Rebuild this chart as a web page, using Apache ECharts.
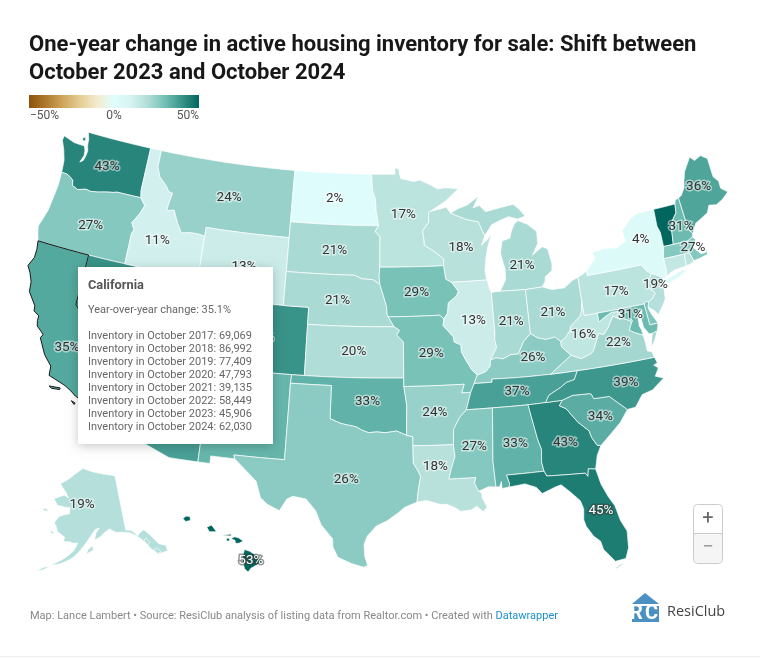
<!DOCTYPE html>
<html><head><meta charset="utf-8">
<style>html,body{margin:0;padding:0;background:#fff}#c{width:760px;height:658px}</style>
<script src="https://cdn.jsdelivr.net/npm/echarts@6/dist/echarts.min.js"></script>
</head><body><div id="c"></div>
<script>
// ---------- chart data ----------
const stateNames = ['Washington','Oregon','Nevada','Idaho','Montana','Wyoming','Utah','Arizona','Colorado','New Mexico','North Dakota','South Dakota','Nebraska','Kansas','Oklahoma','Texas','Minnesota','Iowa','Missouri','Arkansas','Louisiana','Wisconsin','Illinois','Michigan','Indiana','Ohio','Kentucky','Tennessee','Mississippi','Alabama','Georgia','Florida','South Carolina','North Carolina','Virginia','West Virginia','Pennsylvania','New York','Vermont','New Hampshire','Maine','Massachusetts','Connecticut','Rhode Island','New Jersey','Delaware','Maryland','District of Columbia','Alaska','Hawaii','California'];
const stateValues = [43,27,40,11,24,13,20,37,40,32,2,21,21,20,33,26,17,29,29,24,18,18,13,21,21,21,26,37,27,33,43,45,34,39,22,16,17,4,52,31,36,27,15,17,19,28,31,20,19,53,35.1];
const unlabelled = ['Vermont','Connecticut','Rhode Island','Delaware','District of Columbia'];
const whiteLabelled = ['Florida','Hawaii'];
const legendTicks = ['\u221250%','0%','50%'];
const legendColors = ['#8c510a','#ad7a2e','#cfa55b','#e5cd93','#f4ebcd','#e0fefe','#d6f3f0','#b0ddd7','#72bfb5','#389388','#01665e'];
const tipTitle = 'California';
const tipChange = 'Year-over-year change: 35.1%';
const tipYears = [2017,2018,2019,2020,2021,2022,2023,2024];
const tipInventory = ['69,069','86,992','77,409','47,793','39,135','58,449','45,906','62,030'];

// ---------- geometry (lon / lat) : shared borders ----------
const waOr=[[-124,46.27],[-123.5,46.25],[-123.2,46.15],[-122.9,46],[-122.8,45.7],[-122.3,45.55],[-121.6,45.7],[-121.2,45.65],[-120.6,45.72],[-119.9,45.85],[-119.3,45.93],[-118.98,46],[-116.92,46]];
const idOr=[[-116.92,46],[-116.46,45.6],[-116.7,45.1],[-116.85,44.9],[-117.2,44.45],[-117.05,44.25],[-116.9,44.1],[-117.03,43.8],[-117.03,42]];
const idMt=[[-116.05,49],[-116.05,48],[-115.7,47.45],[-115,47],[-114.7,46.7],[-114.35,46.65],[-114.5,46],[-114.55,45.56],[-113.95,45.69],[-113.45,44.95],[-113,44.45],[-112.3,44.55],[-111.5,44.55],[-111.05,44.48]];
const azCa=[[-114.72,32.72],[-114.5,33],[-114.7,33.4],[-114.5,33.9],[-114.15,34.27],[-114.4,34.6],[-114.63,35]];
const azNv=[[-114.63,35],[-114.7,35.6],[-114.74,36.1],[-114.04,36.19]];
const okTx=[[-100,34.56],[-99.2,34.3],[-98.1,34.13],[-97.7,33.95],[-97.2,33.8],[-96.6,33.85],[-96,33.8],[-95.2,33.9],[-94.48,33.64]];
const laTx=[[-94.04,33.02],[-94.04,32],[-93.7,31.5],[-93.55,31.2],[-93.75,30.3],[-93.84,29.7]];
const neSd=[[-104.05,43],[-98.5,43],[-97.9,42.8],[-97,42.76],[-96.44,42.49]];
const iaNe=[[-96.44,42.49],[-96.1,41.7],[-95.9,41.2],[-95.85,40.7],[-95.77,40.58]];
const neMo=[[-95.77,40.58],[-95.31,40]];
const ksMo=[[-95.31,40],[-94.9,39.8],[-95.1,39.5],[-94.61,39.11],[-94.62,37]];
const iaSd=[[-96.45,43.5],[-96.5,43],[-96.44,42.49]];
const mnNd=[[-97.23,49],[-97.1,48],[-96.85,47.5],[-96.8,46.9],[-96.56,45.94]];
const mnSd=[[-96.56,45.94],[-96.85,45.6],[-96.45,45.3],[-96.45,43.5]];
const mnWi=[[-92.1,46.75],[-92.3,46.66],[-92.3,46.1],[-92.85,45.6],[-92.75,45],[-92.75,44.75],[-92,44.4],[-91.2,43.9],[-91.22,43.5]];
const iaWi=[[-91.22,43.5],[-91.1,42.7],[-90.65,42.5]];
const iaIl=[[-90.65,42.5],[-90.15,41.95],[-90.3,41.7],[-91,41.3],[-91.1,40.7],[-91.42,40.38]];
const ilMo=[[-91.42,40.38],[-91.5,40],[-90.75,39.3],[-90.7,39],[-90.2,38.8],[-90.2,38.4],[-89.9,37.9],[-89.5,37.3],[-89.13,36.98]];
const kyMo=[[-89.13,36.98],[-89.4,36.5]];
const moTn=[[-89.4,36.5],[-89.7,36]];
const arTn=[[-89.7,36],[-90.1,35]];
const arMs=[[-90.1,35],[-90.6,34.6],[-91.1,33.9],[-91.17,33]];
const laMs=[[-91.17,33],[-91.1,32.3],[-91.4,31.6],[-91.6,31],[-89.73,31],[-89.85,30.65],[-89.6,30.18]];
const ilKy=[[-88.05,37.8],[-88.1,37.45],[-88.45,37.15],[-89.13,36.98]];
const inKy=[[-84.82,39.1],[-85.4,38.7],[-85.9,38],[-86.5,38],[-87.1,37.8],[-87.6,37.9],[-88.05,37.8]];
const ilIn=[[-87.53,41.72],[-87.53,39.35],[-87.6,39],[-87.5,38.5],[-88.05,37.8]];
const kyOh=[[-82.6,38.42],[-83,38.72],[-83.7,38.65],[-84.3,38.8],[-84.82,39.1]];
const ohWv=[[-80.52,40.64],[-80.65,40],[-80.85,39.7],[-81.7,39.2],[-81.75,39],[-82.2,38.6],[-82.6,38.42]];
const vaWv=[[-81.97,37.54],[-81.25,37.25],[-80.5,37.45],[-80.3,37.55],[-80,38],[-79.65,38.55],[-79.3,38.42],[-78.87,38.77],[-78.35,39.4],[-77.83,39.13],[-77.72,39.32]];
const mdWv=[[-77.72,39.32],[-77.83,39.6],[-78.4,39.62],[-78.9,39.45],[-79.48,39.2],[-79.48,39.72]];
const mdVa=[[-77.72,39.32],[-77.5,39.1],[-77.12,38.93],[-77.03,38.8],[-77.3,38.4],[-76.95,38.2],[-76.35,37.95]];
const kyTn=[[-83.68,36.6],[-86,36.63],[-88.07,36.68],[-88.07,36.5],[-89.4,36.5]];
const tnVa=[[-83.68,36.6],[-81.68,36.59]];
const ncTn=[[-81.68,36.59],[-82,36.1],[-82.6,36],[-83.1,35.75],[-84,35.4],[-84.32,34.99]];
const gaTn=[[-84.32,34.99],[-85.6,34.98]];
const alTn=[[-85.6,34.98],[-88.2,35]];
const msTn=[[-88.2,35],[-90.1,35]];
const alMs=[[-88.2,35],[-88.47,31.9],[-88.4,30.35]];
const alGa=[[-85.6,34.98],[-85.18,32.87],[-85,32.3],[-85.1,31.55],[-85,31]];
const alFl=[[-85,31],[-87.6,31],[-87.45,30.5],[-87.5,30.28]];
const flGa=[[-85,31],[-84.86,30.7],[-82.2,30.57],[-82.05,30.36],[-81.95,30.8],[-81.45,30.72]];
const gaSc=[[-83.1,35],[-83.35,34.7],[-82.9,34.48],[-82.2,33.6],[-81.5,33],[-81.4,32.6],[-81.1,32.1],[-80.85,32.03]];
const gaNc=[[-84.32,34.99],[-83.1,35]];
const ncSc=[[-83.1,35],[-82.3,35.2],[-81.05,35.15],[-80.93,35.1],[-80.8,34.82],[-79.67,34.8],[-78.55,33.86]];
const ncVa=[[-81.68,36.59],[-75.87,36.55]];
const wiMi=[[-90.4,46.57],[-89.1,46.14],[-88.1,45.95],[-87.8,45.35],[-87.65,45.1]];
const nyPa=[[-79.76,42.27],[-79.76,42],[-75.35,42],[-75.05,41.6],[-74.7,41.36]];
const njNy=[[-74.7,41.36],[-73.9,41],[-74.02,40.7]];
const njPa=[[-74.7,41.36],[-75.1,40.95],[-75.2,40.65],[-74.75,40.2],[-75.1,39.9],[-75.4,39.8]];
const dePa=[[-75.4,39.8],[-75.6,39.83],[-75.79,39.72]];
const deMd=[[-75.79,39.72],[-75.7,38.46],[-75.05,38.45]];
const ctNy=[[-73.65,41],[-73.5,41.25],[-73.49,42.05]];
const nyVt=[[-73.27,42.75],[-73.25,43.6],[-73.4,44],[-73.34,45.01]];
const maNh=[[-72.46,42.73],[-71.3,42.7],[-70.82,42.87]];
const nhVt=[[-71.5,45.01],[-71.6,44.5],[-72.05,44.1],[-72.3,43.6],[-72.46,42.73]];
const meNh=[[-71.08,45.3],[-70.98,43.4],[-70.7,43.07]];
const maRi=[[-71.8,42.02],[-71.38,42.02],[-71.2,41.5]];
const R=a=>a.slice().reverse();
const ring=(...p)=>p.flat();

const shapes={
Washington:[ring([[-122.76,49],[-117.03,49],[-117.04,46.42]],R(waOr),[[-124.05,46.7],[-124.1,47],[-124.4,47.6],[-124.75,48.1],[-124.7,48.38],[-123.7,48.17],[-123.1,48.15],[-122.75,48.15],[-122.6,47.9],[-122.55,47.6],[-122.75,47.15],[-122.5,47.3],[-122.4,47.6],[-122.35,47.9],[-122.5,48.25],[-122.55,48.6]]),[[-123.1,48.55],[-122.85,48.7],[-122.8,48.45],[-123,48.42]]],
Oregon:[ring(waOr,idOr,[[-120,42],[-124.21,42],[-124.4,42.4],[-124.55,42.84],[-124.4,43.2],[-124.15,43.9],[-124.05,44.7],[-123.95,45.5]])],
Nevada:[ring([[-120,42],[-117.03,42],[-114.04,42],[-114.04,37],[-114.04,36.19]],R(azNv),[[-120,39]])],
Idaho:[ring([[-117.03,49]],idMt,[[-111.05,42],[-114.04,42],[-117.03,42]],R(idOr),[[-117.04,46.42]])],
Montana:[ring(idMt.slice(0,1),[[-104.05,49],[-104.05,45.94],[-104.05,45],[-111.05,45]],R(idMt).slice(0,-1))],
Wyoming:[[[-111.05,45],[-104.05,45],[-104.05,43],[-104.05,41],[-109.05,41],[-111.05,41],[-111.05,42],[-111.05,44.48]]],
Utah:[[[-114.04,42],[-111.05,42],[-111.05,41],[-109.05,41],[-109.05,37],[-114.04,37]]],
Arizona:[ring([[-114.04,37],[-109.05,37],[-109.05,31.33],[-111.07,31.33],[-114.81,32.49]],azCa,azNv)],
Colorado:[[[-109.05,41],[-104.05,41],[-102.05,41],[-102.05,40],[-102.05,37],[-103,37],[-109.05,37]]],
'New Mexico':[[[-109.05,37],[-103,37],[-103.04,36.5],[-103.06,32],[-106.62,32],[-106.53,31.78],[-108.21,31.78],[-108.21,31.33],[-109.05,31.33]]],
'North Dakota':[ring(mnNd,[[-104.05,45.94],[-104.05,49]])],
'South Dakota':[ring([[-104.05,45.94]],mnSd,iaSd,R(neSd))],
Nebraska:[ring(neSd,iaNe,neMo,[[-102.05,40],[-102.05,41],[-104.05,41]])],
Kansas:[ring([[-102.05,40]],ksMo,[[-102.05,37]])],
Oklahoma:[ring([[-103,37],[-94.62,37],[-94.62,36.5],[-94.43,35.4]],R(okTx),[[-100,36.5],[-103.04,36.5]])],
Texas:[ring([[-103.04,36.5],[-100,36.5]],okTx,[[-94.04,33.55]],laTx,[[-94.7,29.4],[-95.1,29.1],[-95.9,28.6],[-96.6,28.3],[-97.2,27.7],[-97.4,27.2],[-97.35,26.5],[-97.15,25.96],[-97.4,25.85],[-98.2,26.05],[-99.1,26.4],[-99.45,27],[-99.5,27.5],[-100.3,28.3],[-100.7,29.1],[-101.4,29.77],[-102.3,29.88],[-102.7,29.7],[-103.15,28.98],[-104,29.3],[-104.5,29.65],[-104.9,30.6],[-106,31.4],[-106.53,31.78],[-106.62,32],[-103.06,32]])],
Minnesota:[ring(mnNd.slice(0,1),[[-95.15,49],[-95.15,49.38],[-94.82,49.32],[-94.64,48.74],[-93.5,48.55],[-92.95,48.62],[-92,48.3],[-91.4,48.05],[-90.75,48.1],[-89.6,48],[-90.8,47.3]],mnWi,[[-96.45,43.5]],R(mnSd),R(mnNd).slice(1,-1))],
Iowa:[ring([[-96.45,43.5]],iaWi,iaIl,[[-91.73,40.61]],R(iaNe),[[-96.5,43]])],
Missouri:[ring([[-95.77,40.58],[-91.73,40.61]],ilMo,kyMo,moTn,[[-90.37,36],[-90.15,36.5],[-94.62,36.5]],R(ksMo))],
Arkansas:[ring([[-94.62,36.5],[-90.15,36.5],[-90.37,36]],arTn,arMs,[[-94.04,33.02],[-94.04,33.55],[-94.48,33.64],[-94.43,35.4]])],
Louisiana:[ring([[-94.04,33.02]],laMs,[[-89.4,30.05],[-89.4,29.8],[-89.1,29.2],[-89.4,28.95],[-89.8,29.3],[-90.2,29.1],[-90.9,29.05],[-91.3,29.3],[-91.8,29.5],[-92.3,29.53],[-93.2,29.78]],R(laTx).slice(0,-1))],
Wisconsin:[ring([[-91.2,46.87],[-90.75,46.95]],wiMi,[[-88,44.55],[-87.4,44.9],[-87.05,45.25],[-87.5,44.4],[-87.75,43.7],[-87.9,43],[-87.8,42.49]],R(iaWi),R(mnWi))],
Illinois:[ring([[-90.65,42.5],[-87.8,42.49],[-87.6,41.85]],ilIn,ilKy,R(ilMo),R(iaIl).slice(1,-1))],
Michigan:[ring([[-86.82,41.76],[-84.8,41.7],[-83.45,41.73],[-83.15,42.05],[-83.1,42.3],[-82.5,42.6],[-82.42,43],[-82.6,43.9],[-83,44.07],[-83.4,43.9],[-83.9,43.65],[-83.35,44.3],[-83.3,45],[-84,45.5],[-84.75,45.78],[-85.1,45.6],[-85.4,45.2],[-85.6,44.8],[-86.25,44.7],[-86.5,44],[-86.25,43],[-86.3,42.4]]),ring(wiMi,[[-87,45.7],[-86.3,45.9],[-85.5,46.07],[-84.75,45.87],[-84.1,46],[-84.55,46.45],[-85,46.77],[-86.1,46.67],[-87.4,46.5],[-87.9,46.9],[-88.45,46.8],[-87.9,47.47],[-88.9,47],[-89.8,46.8]])],
Indiana:[ring([[-87.53,41.72],[-87.2,41.76],[-86.82,41.76],[-84.8,41.7]],inKy,R(ilIn).slice(0,-1))],
Ohio:[ring([[-84.8,41.7],[-83.45,41.73],[-82.7,41.5],[-81.7,41.5],[-81,41.85],[-80.52,41.98]],ohWv,kyOh)],
Kentucky:[ring(inKy,ilKy,kyMo,R(kyTn),[[-81.97,37.54],[-82.6,38.1]],kyOh)],
Tennessee:[ring([[-89.4,36.5]],R(kyTn),tnVa,ncTn,gaTn,alTn,msTn,R(arTn))],
Mississippi:[ring(msTn.slice(1),arMs,laMs,[[-88.9,30.4]],R(alMs))],
Alabama:[ring([[-88.2,35]],R(alTn),alGa,alFl,[[-88,30.23],[-88,30.65],[-88.15,30.35]],R(alMs).slice(0,-1))],
Georgia:[ring(R(gaTn),gaNc,gaSc,[[-81.2,31.5]],R(flGa),R(alGa).slice(1))],
Florida:[ring(flGa,[[-81.25,29.8],[-80.9,29],[-80.55,28.4],[-80.35,27.5],[-80.03,26.8],[-80.12,25.8],[-80.4,25.2],[-81.1,25.13],[-81.75,25.95],[-81.85,26.45],[-82.25,26.8],[-82.65,27.45],[-82.75,27.85],[-82.65,28.5],[-82.8,29],[-83.4,29.6],[-83.95,30.08],[-84.35,30],[-85.3,29.7],[-85.65,30.1],[-86.4,30.38]],R(alFl)),[[-81.15,24.68],[-80.75,24.85],[-80.55,25.02],[-80.7,24.92],[-81.1,24.74]]],
'South Carolina':[ring(ncSc,[[-79.2,33.2],[-79.9,32.7]],R(gaSc))],
'North Carolina':[ring(ncVa,[[-75.75,36.2],[-76.05,36.1],[-75.75,35.9],[-76.1,35.45],[-75.53,35.25],[-76.5,34.7],[-77.3,34.55],[-77.95,33.9]],R(ncSc),R(gaNc),R(ncTn).slice(1))],
Virginia:[ring([[-83.68,36.6],[-81.97,37.54]],vaWv,mdVa,[[-76.3,37.5],[-76.3,37],[-75.98,36.9],[-75.87,36.55]],R(ncVa).slice(1)),[[-75.95,37.15],[-75.65,37.95],[-75.24,38.03],[-75.6,37.5]]],
'West Virginia':[ring(ohWv.slice(0,1),[[-80.52,39.72]],R(mdWv),R(vaWv),[[-82.6,38.1],[-82.6,38.42]],R(ohWv).slice(1,-1))],
Pennsylvania:[ring([[-80.52,41.98],[-80,42.15]],nyPa,njPa,dePa,[[-79.48,39.72],[-80.52,39.72],[-80.52,40.64]])],
'New York':[ring(nyPa,njNy,ctNy,[[-73.27,42.75]],nyVt.slice(1),[[-74.7,45],[-75.3,44.85],[-76.3,44.2],[-76.2,43.55],[-77,43.27],[-78,43.37],[-79.05,43.27],[-78.9,42.9]]),[[-74.03,40.6],[-73.75,40.85],[-73,40.97],[-72.3,41.15],[-71.87,41.07],[-72.6,40.8],[-73.5,40.58]]],
'New Jersey':[ring(R(njPa),njNy.slice(1),[[-74.25,40.45],[-74,40.4],[-74.1,39.75],[-74.4,39.4],[-74.9,38.93],[-75.1,39.2],[-75.55,39.5]])],
Connecticut:[ring([[-73.49,42.05],[-71.8,42.02],[-71.86,41.32],[-72.9,41.25]],ctNy.slice(0,2))],
'Rhode Island':[ring(maRi,[[-71.5,41.37],[-71.86,41.32]])],
Massachusetts:[ring([[-73.49,42.05],[-73.27,42.75]],maNh,[[-70.6,42.65],[-71,42.3],[-70.65,41.95],[-70.5,41.78],[-70,41.8],[-70.2,42.07],[-69.95,41.85],[-70,41.65],[-70.65,41.55]],R(maRi))],
Vermont:[ring(nyVt,nhVt)],
'New Hampshire':[ring([[-71.5,45.01],[-71.4,45.23]],meNh,R(maNh),R(nhVt).slice(1,-1))],
Maine:[ring(meNh.slice(0,1),[[-70.8,45.4],[-70.4,45.8],[-70.25,46.2],[-70,46.7],[-69.23,47.46],[-68.9,47.18],[-68.3,47.36],[-67.79,47.07],[-67.78,45.94],[-67.45,45.6],[-67.45,45.15],[-66.97,44.83],[-67.6,44.5],[-68.2,44.3],[-68.8,44.4],[-69.1,44],[-69.8,43.75],[-70.25,43.6]],R(meNh))],
Delaware:[ring([[-75.4,39.8],[-75.6,39.83]],deMd,[[-75.4,39.05],[-75.55,39.45]])],
Maryland:[ring([[-79.48,39.72],[-75.79,39.72]],deMd.slice(1),[[-75.24,38.03],[-75.65,37.95],[-75.9,37.95],[-76.2,38.4],[-76.25,38.9],[-76.05,39.4],[-76.45,39.2],[-76.5,38.5],[-76.4,38.3]],R(mdVa),mdWv.slice(1,-1))],
'District of Columbia':[[[-77.12,38.93],[-77.03,39],[-76.91,38.89],[-77.03,38.8]]],
Alaska:[[[-141,69.65],[-141,60.3],[-139,60],[-137.5,58.9],[-136,59.5],[-135,59.6],[-133.5,58.4],[-131.8,56.6],[-130,56],[-130,55],[-131.5,55],[-133,55],[-134.5,56.2],[-135.8,57.5],[-136.6,58.2],[-138,59],[-139.8,59.7],[-142,60],[-144.5,60.2],[-146.5,60.9],[-148.5,60.3],[-149.5,59.8],[-151.8,59.2],[-151.3,60.3],[-150,61.2],[-151.4,61],[-152.6,60.2],[-153.6,59.5],[-154.5,58.8],[-156.5,57.4],[-158.5,56.2],[-161,55.3],[-163.3,54.7],[-164.8,54.6],[-163,55.2],[-161,56],[-158.5,57.3],[-157.3,58.7],[-158.8,58.6],[-160,58.8],[-162,58.7],[-161.8,59.5],[-164.5,60.3],[-165.3,61.2],[-166.1,61.6],[-164.8,62.8],[-163,63.2],[-161,63.5],[-161,64.5],[-163,64.5],[-166,64.6],[-168,65.6],[-164,66.5],[-162,66.1],[-163.5,67],[-166.5,68.3],[-163,69.3],[-160,70.4],[-156.6,71.35],[-152,70.8],[-148,70.4],[-144,70]],
 [[-154.5,56.9],[-152.3,57.5],[-152.5,58.3],[-154,57.6]],[[-167,53.4],[-165,54.2],[-166.5,54],[-168.5,53.2]],[[-167,60.2],[-165.5,60.1],[-165.7,59.8],[-166.6,59.85]],[[-171.7,63.4],[-170,63.7],[-168.8,63.2],[-170.5,63.3]],[[-133.9,55.9],[-132.8,56.1],[-132,55.2],[-133.2,55.1]],[[-136,57.8],[-135.2,58.2],[-134.3,57.3],[-135.2,57]]],
Hawaii:[[[-159.78,22.07],[-159.58,22.22],[-159.33,22.2],[-159.3,21.96],[-159.6,21.9]],[[-158.27,21.57],[-157.97,21.7],[-157.65,21.3],[-158.1,21.3]],[[-157.3,21.1],[-156.75,21.17],[-156.72,21.05],[-157.25,21.08]],[[-157.05,20.9],[-156.85,20.93],[-156.82,20.75],[-157,20.75]],[[-156.7,20.93],[-156.5,21],[-156.25,20.93],[-155.98,20.75],[-156.2,20.63],[-156.45,20.6],[-156.5,20.8],[-156.68,20.85]],[[-155.9,20.25],[-155.6,20.15],[-155.08,19.85],[-154.8,19.5],[-155.5,19.13],[-155.68,18.91],[-155.9,19.1],[-156.05,19.7]]],
California:[ring([[-120,42],[-120,39],[-114.63,35]],R(azCa),[[-117.13,32.53],[-117.28,32.85],[-117.6,33.4],[-118.1,33.7],[-118.4,33.8],[-118.8,34.03],[-119.3,34.25],[-120.1,34.47],[-120.6,34.6],[-120.65,35.15],[-121.3,35.7],[-121.95,36.6],[-121.8,36.8],[-122,36.95],[-122.4,37.2],[-122.5,37.5],[-122.5,37.8],[-122.95,38],[-123,38.3],[-123.7,39],[-123.8,39.6],[-124.1,40.1],[-124.4,40.44],[-124.1,41],[-124.1,41.5],[-124.21,42]]),[[-120.4,34],[-119.6,34.05],[-119.6,33.95],[-120.2,33.9]],[[-118.6,33.48],[-118.3,33.4],[-118.35,33.3]]]
};
const labelAnchors={Washington:[-120.38,47.33],Oregon:[-120.45,43.72],Nevada:[-116.7,39.5],Idaho:[-114.85,43.75],Montana:[-109.5,46.95],Wyoming:[-107.5,43],Utah:[-111.6,39.3],Arizona:[-111.7,34.3],Colorado:[-105.5,39],'New Mexico':[-106,34.4],'North Dakota':[-100.4,47.45],'South Dakota':[-100.2,44.4],Nebraska:[-99.8,41.5],Kansas:[-98.4,38.5],Oklahoma:[-97.3,35.6],Texas:[-98.7,31.04],Minnesota:[-94.45,46.6],Iowa:[-93.5,42],Missouri:[-92.5,38.4],Arkansas:[-92.4,34.9],Louisiana:[-92.5,31.77],Wisconsin:[-89.72,44.48],Illinois:[-89.12,40.18],Michigan:[-84.85,43.12],Indiana:[-86.2,39.9],Ohio:[-82.88,40.17],Kentucky:[-84.85,37.67],Tennessee:[-86.3,35.8],Mississippi:[-89.7,32.8],Alabama:[-86.8,32.8],Georgia:[-83.27,32.52],Florida:[-81.53,28.24],'South Carolina':[-80.55,33.72],'North Carolina':[-78.3,35.44],Virginia:[-78.3,37.8],'West Virginia':[-80.8,38.6],Pennsylvania:[-77.72,40.78],'New York':[-74.95,43.45],'New Hampshire':[-71.5,43.6],Maine:[-69.2,45.6],Massachusetts:[-71,42.24],'New Jersey':[-74.6,40.67],Maryland:[-77,39.25],Alaska:[-156.3,65.1],Hawaii:[-155.5,19.6],California:[-119.85,36.45],Vermont:[-72.7,44],Connecticut:[-72.7,41.6],'Rhode Island':[-71.5,41.7],Delaware:[-75.5,39],'District of Columbia':[-77,38.9]};

// ---------- projection: Albers with Alaska and Hawaii insets ----------
function conic(p1,p2,lon0,scale,x0,y0){
  const r=Math.PI/180,s1=Math.sin(p1*r),s2=Math.sin(p2*r),n=(s1+s2)/2,C=Math.cos(p1*r)**2+2*n*s1;
  return {n,C,lon0,scale,x0,y0,f([lon,lat]){
    const rho=Math.sqrt(C-2*n*Math.sin(lat*r))/n,t=n*(lon-lon0)*r;
    return [x0+scale*rho*Math.sin(t),y0+scale*rho*Math.cos(t)];
  }};
}
const lower48=conic(29.5,45.5,-96,970,385.3,369.5-970*1.3032);
const alaskaInset=conic(55,65,-154,340,87.9,339.2);
const hawaiiInset=conic(8,18,-157,970,226.9,-3529.2);
function project(p){
  if(p[0]<-129.5&&p[1]>50)return alaskaInset.f(p);
  if(p[0]<-150&&p[1]<25)return hawaiiInset.f(p);
  return lower48.f(p);
}
function unproject(pt){
  const c=lower48,X=(pt[0]-c.x0)/c.scale,Y=(pt[1]-c.y0)/c.scale,rho=Math.hypot(X,Y);
  return [c.lon0+Math.atan2(X,Y)/c.n*180/Math.PI,Math.asin((c.C-(rho*c.n)**2)/(2*c.n))*180/Math.PI];
}
function densify(r){
  const out=[];
  r.forEach((a,i)=>{
    const b=r[(i+1)%r.length],k=Math.max(1,Math.ceil(Math.max(Math.abs(a[0]-b[0]),Math.abs(a[1]-b[1]))));
    for(let j=0;j<k;j++)out.push([a[0]+(b[0]-a[0])*j/k,a[1]+(b[1]-a[1])*j/k]);
  });
  out.push(out[0].slice());
  return out;
}
const features=stateNames.map(name=>({type:'Feature',properties:{name,cp:labelAnchors[name]},
  geometry:{type:'MultiPolygon',coordinates:shapes[name].map(r=>[densify(r)])}}));
echarts.registerMap('USA',{type:'FeatureCollection',features});
let x0=1e9,y0=1e9,x1=-1e9,y1=-1e9;
features.forEach(f=>f.geometry.coordinates.forEach(pg=>pg[0].forEach(p=>{const q=project(p);x0=Math.min(x0,q[0]);x1=Math.max(x1,q[0]);y0=Math.min(y0,q[1]);y1=Math.max(y1,q[1]);})));

// ---------- chart ----------
const FONT='Roboto';
const seriesData=stateNames.map((name,i)=>{
  const item={name,value:stateValues[i]};
  if(unlabelled.includes(name))item.label={show:false};
  if(whiteLabelled.includes(name))item.label={color:'#fff',textBorderColor:'rgba(60,60,60,0.55)'};
  if(name==='California')item.itemStyle={borderColor:'#1a1a1a',borderWidth:1};
  return item;
});
const tipLines=tipYears.map((y,i)=>`Inventory in October ${y}: ${tipInventory[i]}`);
const txt=(x,y,text,o={})=>({type:'text',x,y,z:o.z||100,silent:true,style:Object.assign({text,fontFamily:FONT,fontSize:12,fill:'#666',verticalAlign:'middle'},o)});
const legendGradient=new echarts.graphic.LinearGradient(0,0,1,0,legendColors.map((color,i)=>({offset:i/(legendColors.length-1),color})));
const chart=echarts.init(document.getElementById('c'));
chart.setOption({
  animation:false,backgroundColor:'#fff',
  title:{text:'One-year change in active housing inventory for sale: Shift between\nOctober 2023 and October 2024',left:29,top:32,padding:0,
    textStyle:{fontFamily:FONT,fontWeight:700,fontSize:22,lineHeight:27.5,color:'#181818'}},
  visualMap:{type:'continuous',show:false,min:-50,max:50,seriesIndex:0,inRange:{color:legendColors}},
  series:[{type:'map',map:'USA',projection:{project,unproject},left:x0,top:y0,width:x1-x0,height:y1-y0,aspectScale:1,roam:false,silent:true,selectedMode:false,
    itemStyle:{borderColor:'#fff',borderWidth:0.7},
    label:{show:true,fontFamily:FONT,fontSize:13.5,color:'#333',textBorderColor:'rgba(255,255,255,0.5)',textBorderWidth:3,formatter:p=>Math.round(p.value)+'%'},
    emphasis:{disabled:true},data:seriesData}],
  graphic:[
    {type:'rect',z:90,silent:true,shape:{x:29,y:95,width:170,height:13},style:{fill:legendGradient}},
    txt(30,115.5,legendTicks[0],{fill:'#555'}),
    txt(114,115.5,legendTicks[1],{fill:'#555',align:'center'}),
    txt(199,115.5,legendTicks[2],{fill:'#555',align:'right'}),
    {type:'rect',z:99,silent:true,shape:{x:78,y:267,width:195,height:177},style:{fill:'#fff',shadowBlur:10,shadowColor:'rgba(0,0,0,0.22)',shadowOffsetY:2}},
    txt(88,285.5,tipTitle,{fontSize:12.8,fontWeight:700,fill:'#555'}),
    txt(88,310.5,tipChange,{fontSize:11,fill:'#666'}),
    ...tipLines.map((t,i)=>txt(88,336.5+13*i,t,{fontSize:11,fill:'#666'})),
    {type:'rect',z:99,silent:true,shape:{x:693.5,y:504.5,width:29,height:59,r:4},style:{fill:'#fff',stroke:'#ccc',lineWidth:1}},
    {type:'rect',z:99,silent:true,shape:{x:694,y:534,width:28,height:29,r:[0,0,4,4]},style:{fill:'#f5f5f5'}},
    {type:'line',z:100,silent:true,shape:{x1:694,y1:533.5,x2:722,y2:533.5},style:{stroke:'#ccc',lineWidth:1}},
    txt(708,519,'+',{fontSize:20,fill:'#666',align:'center'}),
    txt(708,548,'\u2212',{fontSize:20,fill:'#999',align:'center'}),
    txt(30,616,'Map: Lance Lambert \u2022 Source: ResiClub analysis of listing data from Realtor.com \u2022 Created with {l|Datawrapper}',{fontSize:11,fill:'#888',rich:{l:{fill:'#1d8fd0',fontFamily:FONT,fontSize:11}}}),
    {type:'polygon',z:100,silent:true,shape:{points:[[632,604],[645,593],[659,604]]},style:{fill:'#4a90c2'}},
    {type:'rect',z:100,silent:true,shape:{x:632,y:606,width:27,height:16},style:{fill:'#4a90c2'}},
    txt(630,614,'R',{fontSize:20,fontWeight:700,fill:'#fff',z:101}),
    txt(645,614,'C',{fontSize:20,fontWeight:700,fill:'#fff',z:101}),
    txt(667,612,'ResiClub',{fontFamily:'Open Sans',fontSize:14.5,fontWeight:500,fill:'#444'}),
    {type:'rect',z:1,silent:true,shape:{x:0,y:656,width:760,height:1},style:{fill:'#eee'}}
  ]
});
</script></body></html>
